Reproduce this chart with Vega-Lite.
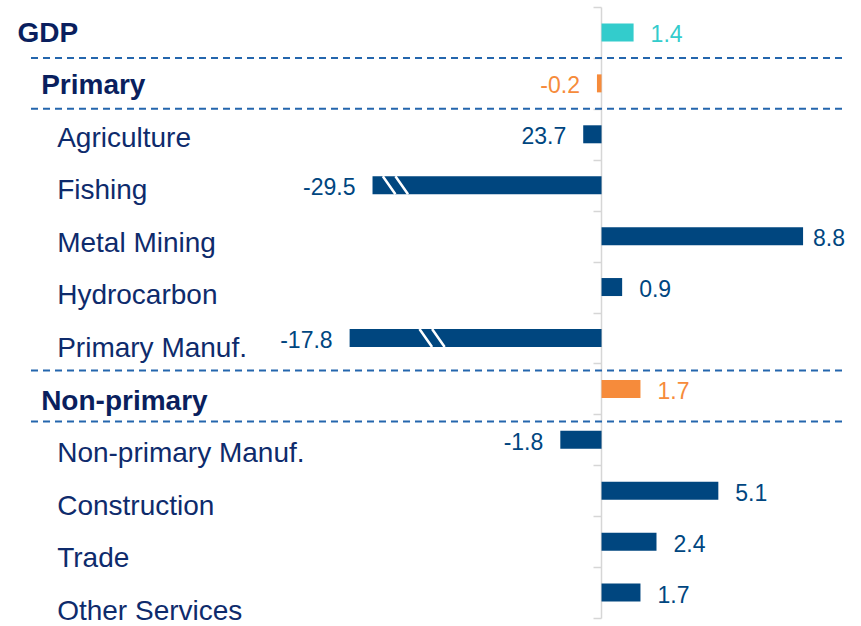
{
  "$schema": "https://vega.github.io/schema/vega-lite/v6.json",
  "width": 813,
  "height": 611,
  "autosize": {"type": "none"},
  "padding": {"left": 29, "top": 7, "right": 19, "bottom": 8},
  "background": "white",
  "config": {"view": {"stroke": null}, "font": "Liberation Sans"},
  "data": {
    "values": [
      {"cat": "GDP", "value": 1.4, "label": "1.4", "grp": "total", "brk": null},
      {"cat": "Primary", "value": -0.2, "label": "-0.2", "grp": "sector", "brk": null},
      {"cat": "Agriculture", "value": -0.8, "label": "23.7", "grp": "sub", "brk": null},
      {"cat": "Fishing", "value": -10.0, "label": "-29.5", "grp": "sub", "brk": -9.0},
      {"cat": "Metal Mining", "value": 8.8, "label": "8.8", "grp": "sub", "brk": null},
      {"cat": "Hydrocarbon", "value": 0.9, "label": "0.9", "grp": "sub", "brk": null},
      {"cat": "Primary Manuf.", "value": -11.0, "label": "-17.8", "grp": "sub", "brk": -7.4},
      {"cat": "Non-primary", "value": 1.7, "label": "1.7", "grp": "sector", "brk": null},
      {"cat": "Non-primary Manuf.", "value": -1.8, "label": "-1.8", "grp": "sub", "brk": null},
      {"cat": "Construction", "value": 5.1, "label": "5.1", "grp": "sub", "brk": null},
      {"cat": "Trade", "value": 2.4, "label": "2.4", "grp": "sub", "brk": null},
      {"cat": "Other Services", "value": 1.7, "label": "1.7", "grp": "sub", "brk": null}
    ]
  },
  "layer": [
    {
      "layer": [
        {
          "transform": [{"filter": {"field": "cat", "oneOf": ["Primary", "Agriculture"]}}],
          "mark": {"type": "rule", "color": "#2466AD", "strokeWidth": 2, "strokeDash": [7, 5]},
          "encoding": {
            "y": {"field": "cat", "type": "nominal", "sort": null, "bandPosition": 0, "title": null}
          }
        },
        {
          "transform": [{"filter": {"field": "cat", "oneOf": ["Non-primary", "Non-primary Manuf."]}}],
          "mark": {"type": "rule", "color": "#2466AD", "strokeWidth": 2, "strokeDash": [7, 5]},
          "encoding": {
            "y": {"field": "cat", "type": "nominal", "sort": null, "bandPosition": 0.14, "title": null}
          }
        },
        {
          "mark": {"type": "bar", "size": 18},
          "encoding": {
            "y": {
              "field": "cat",
              "type": "nominal",
              "sort": null,
              "title": null,
              "scale": {
                "domain": ["GDP", "Primary", "Agriculture", "Fishing", "Metal Mining", "Hydrocarbon", "Primary Manuf.", "Non-primary", "Non-primary Manuf.", "Construction", "Trade", "Other Services"],
                "paddingInner": 0,
                "paddingOuter": 0
              },
              "axis": {
                "title": null,
                "orient": "left",
                "offset": -572,
                "labels": false,
                "grid": false,
                "domain": true,
                "domainColor": "#D6D6D6",
                "domainWidth": 1.5,
                "ticks": true,
                "tickBand": "extent",
                "tickColor": "#D6D6D6",
                "tickWidth": 1.5,
                "tickSize": 8
              }
            },
            "x": {"field": "value", "type": "quantitative", "scale": {"domain": [-25, 10.5], "nice": false, "zero": false}, "axis": null},
            "color": {"field": "grp", "type": "nominal", "scale": {"domain": ["total", "sector", "sub"], "range": ["#33CCCC", "#F68B3B", "#00467F"]}, "legend": null}
          }
        },
        {
          "transform": [{"filter": "isValid(datum.brk)"}],
          "mark": {"type": "point", "shape": "M-1.4,-1L0,1M0,-1L1.4,1", "size": 324, "filled": false, "stroke": "white", "strokeWidth": 2.5, "opacity": 1},
          "encoding": {
            "y": {"field": "cat", "type": "nominal", "sort": null, "title": null},
            "x": {"field": "brk", "type": "quantitative"}
          }
        },
        {
          "transform": [{"filter": "datum.value >= 0 && datum.value < 8"}],
          "mark": {"type": "text", "fontSize": 23, "font": "Liberation Sans", "baseline": "middle", "dy": 3, "align": "left", "dx": 17},
          "encoding": {
            "y": {"field": "cat", "type": "nominal", "sort": null, "title": null},
            "x": {"field": "value", "type": "quantitative"},
            "text": {"field": "label"},
            "color": {"field": "grp", "type": "nominal", "legend": null}
          }
        },
        {
          "transform": [{"filter": "datum.value >= 8"}],
          "mark": {"type": "text", "fontSize": 23, "font": "Liberation Sans", "baseline": "middle", "dy": 3, "align": "left", "dx": 10},
          "encoding": {
            "y": {"field": "cat", "type": "nominal", "sort": null, "title": null},
            "x": {"field": "value", "type": "quantitative"},
            "text": {"field": "label"},
            "color": {"field": "grp", "type": "nominal", "legend": null}
          }
        },
        {
          "transform": [{"filter": "datum.value < 0"}],
          "mark": {"type": "text", "fontSize": 23, "font": "Liberation Sans", "baseline": "middle", "dy": 3, "align": "right", "dx": -17},
          "encoding": {
            "y": {"field": "cat", "type": "nominal", "sort": null, "title": null},
            "x": {"field": "value", "type": "quantitative"},
            "text": {"field": "label"},
            "color": {"field": "grp", "type": "nominal", "legend": null}
          }
        }
      ]
    },
    {
      "layer": [
        {
          "transform": [{"filter": "datum.grp == 'total'"}],
          "mark": {"type": "text", "fontSize": 28, "font": "Liberation Sans", "fontWeight": "bold", "align": "left", "baseline": "middle", "dy": 1, "color": "#0A1F5E"},
          "encoding": {
            "y": {
              "field": "cat",
              "type": "nominal",
              "title": null,
              "scale": {
                "domain": ["GDP", "Primary", "Agriculture", "Fishing", "Metal Mining", "Hydrocarbon", "Primary Manuf.", "Non-primary", "Non-primary Manuf.", "Construction", "Trade", "Other Services"],
                "range": [-0.5, 630],
                "paddingInner": 0,
                "paddingOuter": 0
              },
              "axis": null
            },
            "x": {"datum": -25.5, "type": "quantitative"},
            "text": {"field": "cat"}
          }
        },
        {
          "transform": [{"filter": "datum.grp == 'sector'"}],
          "mark": {"type": "text", "fontSize": 28, "font": "Liberation Sans", "fontWeight": "bold", "align": "left", "baseline": "middle", "dy": 1, "color": "#0A1F5E"},
          "encoding": {
            "y": {"field": "cat", "type": "nominal", "title": null, "axis": null},
            "x": {"datum": -24.47, "type": "quantitative"},
            "text": {"field": "cat"}
          }
        },
        {
          "transform": [{"filter": "datum.grp == 'sub'"}],
          "mark": {"type": "text", "fontSize": 28, "font": "Liberation Sans", "align": "left", "baseline": "middle", "dy": 1, "color": "#0E2B6C"},
          "encoding": {
            "y": {"field": "cat", "type": "nominal", "title": null, "axis": null},
            "x": {"datum": -23.77, "type": "quantitative"},
            "text": {"field": "cat"}
          }
        }
      ]
    }
  ],
  "resolve": {"scale": {"y": "independent"}, "axis": {"y": "independent"}}
}
